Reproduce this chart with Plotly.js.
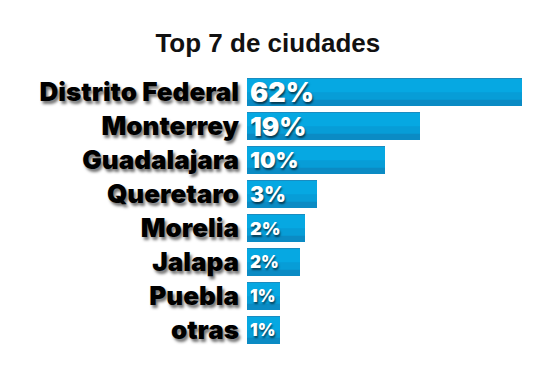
<!DOCTYPE html>
<html>
<head>
<meta charset="utf-8">
<script src="https://cdn.plot.ly/plotly-3.0.1.min.js"></script>
<style>html,body{margin:0;padding:0;background:#fff;}#chart{width:558px;height:369px;}</style>
</head>
<body>
<div id="chart"></div>
<script>
// Data
var cities = ["Distrito Federal", "Monterrey", "Guadalajara", "Queretaro", "Morelia", "Jalapa", "Puebla", "otras"];
var shareLabels = ["62%", "19%", "10%", "3%", "2%", "2%", "1%", "1%"];
// Drawn bar lengths (the source bars are not proportional to the shares)
var barLength = [275, 173, 138, 70, 58, 53, 33, 33];
var labelSizes = [27, 26, 22, 21, 18, 17, 17, 17];

function layer(width, color) {
  return {
    type: "bar", orientation: "h",
    y: cities, x: barLength,
    width: width, offset: -0.41,
    marker: { color: color, line: { width: 0 } },
    hoverinfo: "none"
  };
}
var baseTrace = layer(0.82, "#0b8bc4");
var midTrace = layer(0.64, "#079dd7");
var topTrace = layer(0.42, "#06a8e2");
var edgeTrace = layer(0.03, "#1a8cc0");

var textTrace = {
  type: "bar", orientation: "h",
  y: cities, x: barLength,
  width: 0.82, offset: -0.41,
  marker: { color: "rgba(0,0,0,0)", line: { width: 0 } },
  text: shareLabels,
  textposition: "inside",
  insidetextanchor: "start",
  constraintext: "none",
  textfont: { family: "Inter, 'DejaVu Sans', sans-serif", weight: 900, color: "#ffffff", size: labelSizes,
              shadow: "1px 2px 2px rgba(0,0,0,0.6)" },
  hoverinfo: "none"
};

var layout = {
  width: 558, height: 369,
  margin: { l: 247, r: 36, t: 75, b: 22 },
  paper_bgcolor: "#ffffff", plot_bgcolor: "#ffffff",
  showlegend: false,
  barmode: "overlay",
  title: { text: "Top 7 de ciudades", x: 0.48, xanchor: "center", y: 0.885, yanchor: "middle",
           font: { family: "Liberation Sans, Arial, sans-serif", weight: 700, size: 26, color: "#111111" } },
  xaxis: { range: [0, 275], showgrid: false, zeroline: false, showline: false, showticklabels: false, fixedrange: true },
  yaxis: { autorange: "reversed", showgrid: false, zeroline: false, showline: false,
           ticks: "", ticklabelstandoff: 7,
           tickfont: { family: "Inter, 'DejaVu Sans', sans-serif", weight: 900, size: 26, color: "#000000",
                       shadow: "2px 3px 3px rgba(0,0,0,0.55)" } }
};

Plotly.newPlot("chart", [baseTrace, midTrace, topTrace, edgeTrace, textTrace], layout, { displayModeBar: false, staticPlot: true });
</script>
</body>
</html>
